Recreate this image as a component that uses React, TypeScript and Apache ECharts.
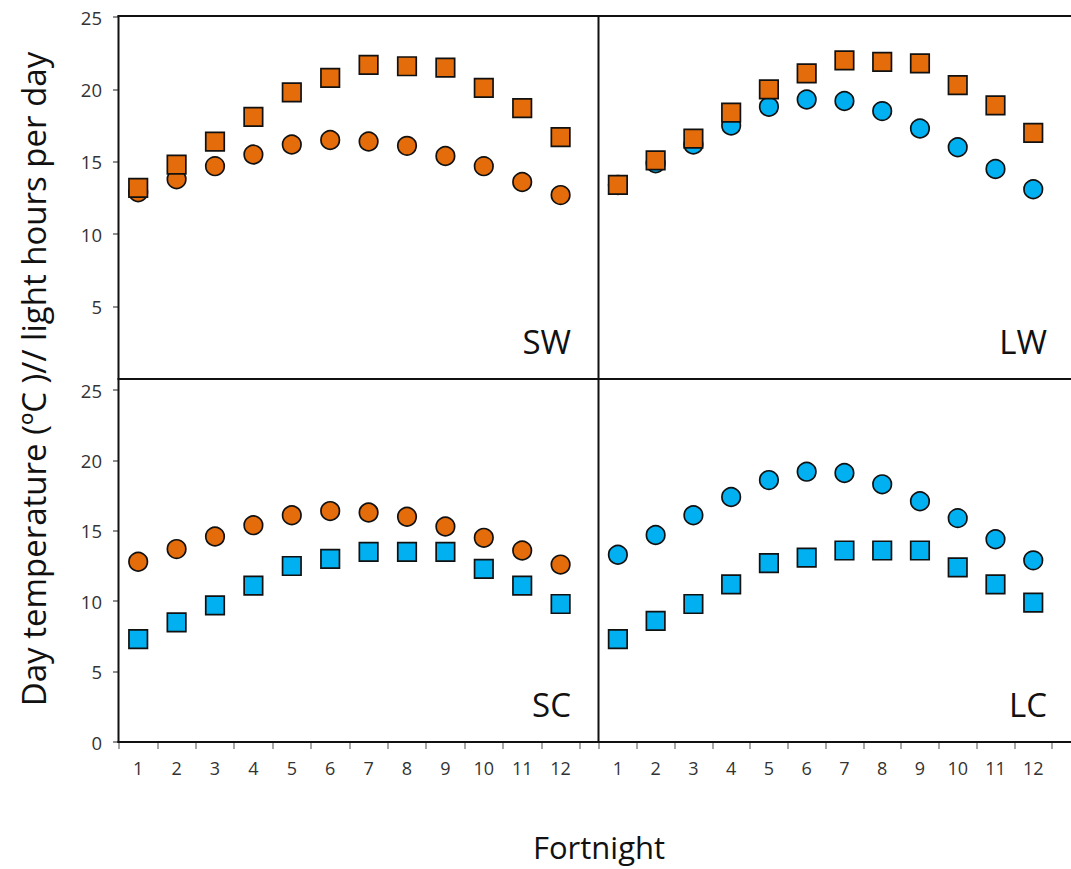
import React, { useEffect, useRef } from "react";
import * as echarts from "echarts";

// Fortnights on the x axis
const fortnights = [1, 2, 3, 4, 5, 6, 7, 8, 9, 10, 11, 12];
// Tick marks sit between fortnights
const xTicks = [0.5, 1.5, 2.5, 3.5, 4.5, 5.5, 6.5, 7.5, 8.5, 9.5, 10.5, 11.5, 12.5];
const yTicksTop = [5, 10, 15, 20, 25];
const yTicksBottom = [0, 5, 10, 15, 20, 25];

// SW panel
const swSquares = [13.2, 14.8, 16.4, 18.1, 19.8, 20.8, 21.7, 21.6, 21.5, 20.1, 18.7, 16.7];
const swCircles = [12.9, 13.8, 14.7, 15.5, 16.2, 16.5, 16.4, 16.1, 15.4, 14.7, 13.6, 12.7];
// LW panel
const lwSquares = [13.4, 15.1, 16.6, 18.4, 20.0, 21.1, 22.0, 21.9, 21.8, 20.3, 18.9, 17.0];
const lwCircles = [13.4, 14.9, 16.2, 17.5, 18.8, 19.3, 19.2, 18.5, 17.3, 16.0, 14.5, 13.1];
// SC panel
const scCircles = [12.8, 13.7, 14.6, 15.4, 16.1, 16.4, 16.3, 16.0, 15.3, 14.5, 13.6, 12.6];
const scSquares = [7.3, 8.5, 9.7, 11.1, 12.5, 13.0, 13.5, 13.5, 13.5, 12.3, 11.1, 9.8];
// LC panel
const lcCircles = [13.3, 14.7, 16.1, 17.4, 18.6, 19.2, 19.1, 18.3, 17.1, 15.9, 14.4, 12.9];
const lcSquares = [7.3, 8.6, 9.8, 11.2, 12.7, 13.1, 13.6, 13.6, 13.6, 12.4, 11.2, 9.9];

const ORANGE = "#E46C0A";
const BLUE = "#00B0F0";
const FONT = "'Open Sans', sans-serif";

const pairs = (ys: number[]) => fortnights.map((x, i) => [x, ys[i]]);

export default function App() {
  const ref = useRef<HTMLDivElement>(null);

  useEffect(() => {
    if (!ref.current) return;
    const chart = echarts.init(ref.current, null, { renderer: "svg" });

    const grids = [
      { left: 119, top: 17, width: 480, height: 362 }, // SW
      { left: 599, top: 17, width: 500, height: 362 }, // LW
      { left: 119, top: 390, width: 480, height: 352 }, // SC
      { left: 599, top: 390, width: 500, height: 352 }, // LC
    ];

    const xAxis = grids.map((_, i) => {
      const bottom = i >= 2;
      return {
        gridIndex: i,
        type: "value",
        min: 0.5,
        max: 13,
        show: bottom,
        axisLine: { show: false },
        splitLine: { show: false },
        axisTick: {
          show: bottom,
          customValues: xTicks,
          length: 7,
          lineStyle: { color: "#8a8a8a", width: 1.5 },
        },
        axisLabel: {
          show: bottom,
          customValues: fortnights,
          margin: 17,
          fontFamily: FONT,
          fontSize: 18,
          color: "#333",
        },
      };
    });

    const yAxis = grids.map((_, i) => {
      const left = i % 2 === 0;
      const ticks = i < 2 ? yTicksTop : yTicksBottom;
      return {
        gridIndex: i,
        type: "value",
        min: 0,
        max: 25,
        show: left,
        axisLine: { show: false },
        splitLine: { show: false },
        axisTick: {
          show: left,
          customValues: ticks,
          length: 6,
          lineStyle: { color: "#6a6a6a", width: 1.5 },
        },
        axisLabel: {
          show: left,
          customValues: ticks,
          margin: 17,
          fontFamily: FONT,
          fontSize: 18.5,
          color: "#333",
        },
      };
    });

    const mark = (
      idx: number,
      ys: number[],
      shape: "circle" | "rect",
      color: string
    ) => ({
      type: "scatter",
      xAxisIndex: idx,
      yAxisIndex: idx,
      data: pairs(ys),
      symbol: shape,
      symbolSize: shape === "rect" ? 18.5 : 18.5,
      itemStyle: { color, borderColor: "#111", borderWidth: 1.7, opacity: 1 },
      emphasis: { disabled: true },
    });

    const frame = { stroke: "#111", lineWidth: 2 };
    const line = (x1: number, y1: number, x2: number, y2: number) => ({
      type: "line",
      shape: { x1, y1, x2, y2 },
      style: frame,
      z: 10,
    });
    const panelLabel = (text: string, x: number, y: number) => ({
      type: "text",
      x,
      y,
      style: {
        text,
        fontFamily: FONT,
        fontSize: 33,
        fill: "#111",
        textAlign: "right",
        textVerticalAlign: "middle",
      },
    });

    chart.setOption({
      animation: false,
      backgroundColor: "#fff",
      grid: grids,
      xAxis,
      yAxis,
      series: [
        mark(0, swCircles, "circle", ORANGE),
        mark(0, swSquares, "rect", ORANGE),
        mark(1, lwCircles, "circle", BLUE),
        mark(1, lwSquares, "rect", ORANGE),
        mark(2, scCircles, "circle", ORANGE),
        mark(2, scSquares, "rect", BLUE),
        mark(3, lcCircles, "circle", BLUE),
        mark(3, lcSquares, "rect", BLUE),
      ],
      graphic: [
        line(118.5, 15.5, 118.5, 743),
        line(117.5, 16, 1071, 16),
        line(117.5, 379, 1071, 379),
        line(598.5, 15, 598.5, 743),
        line(117.5, 742, 1071, 742),
        panelLabel("SW", 571, 341),
        panelLabel("LW", 1047, 341),
        panelLabel("SC", 571, 704),
        panelLabel("LC", 1047, 704),
        {
          type: "text",
          x: 33,
          y: 379,
          rotation: Math.PI / 2,
          style: {
            text: "Day temperature (ºC )// light hours per day",
            fontFamily: FONT,
            fontSize: 33,
            fill: "#111",
            textAlign: "center",
            textVerticalAlign: "middle",
          },
        },
        {
          type: "text",
          x: 599,
          y: 847,
          style: {
            text: "Fortnight",
            fontFamily: FONT,
            fontSize: 31,
            lineHeight: 32,
            fill: "#111",
            textAlign: "center",
            textVerticalAlign: "middle",
          },
        },
      ],
    });

    return () => chart.dispose();
  }, []);

  return (
    <div
      ref={ref}
      style={{
        position: "fixed",
        left: 0,
        top: 0,
        width: 1071,
        height: 869,
        background: "#fff",
      }}
    />
  );
}
